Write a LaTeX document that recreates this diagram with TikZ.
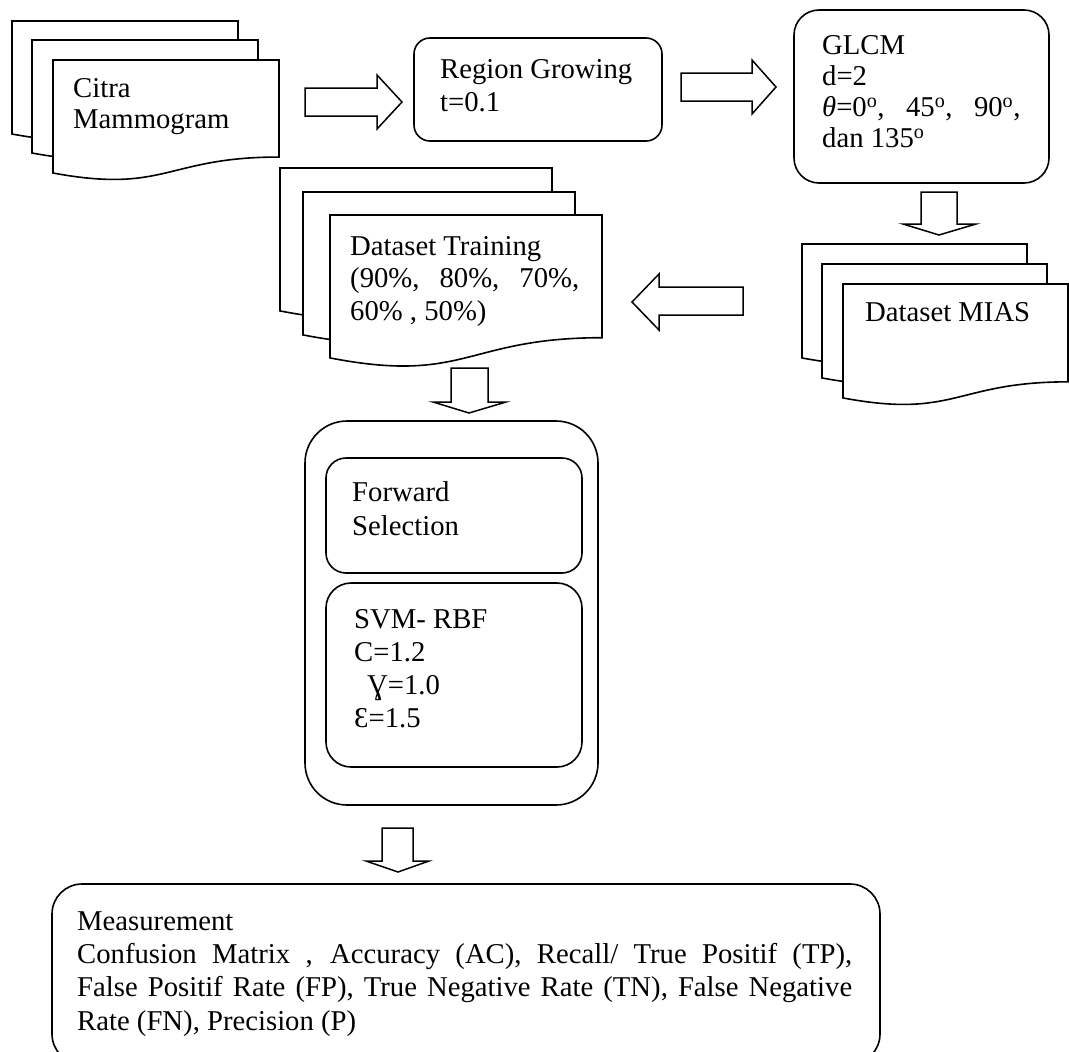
\documentclass[tikz,border=0pt]{standalone}
\usepackage{fontspec}
\setmainfont{Liberation Serif}
\newcommand{\docsheet}[4]{%
  \draw[sheet] (#1,#2) -- ({#1+#3},#2) -- ({#1+#3},{#2+0.802*#4})
    .. controls ({#1+0.5*#3},{#2+0.802*#4}) and ({#1+0.5*#3},{#2+1.107*#4}) .. (#1,{#2+0.934*#4}) -- cycle;}
\tikzset{
  sheet/.style={draw=black, fill=white, line width=1.6pt},
  rbox/.style={draw=black, fill=white, line width=1.6pt},
  blockarrow/.style={draw=black, fill=white, line width=1.5pt, line join=miter},
  txt/.style={anchor=north west, inner sep=0pt, align=left, font=\fontsize{28.7}{33}\selectfont},
}
\begin{document}
\begin{tikzpicture}[x=1pt,y=-1pt]
\fill[white] (0,0) rectangle (1069,1052);
\useasboundingbox (0,0) rectangle (1069,1052);

% Citra Mammogram
\docsheet{12}{21}{226}{121}
\docsheet{32}{40}{226}{121}
\docsheet{53}{60}{226}{121}
\node[txt] (citra) at (73,{97-23.1}) {\strut Citra\\[-2pt]Mammogram};

% arrow 1
\draw[blockarrow] (305,88) -- (377,88) -- (377,75) -- (402,102) -- (377,129) -- (377,116) -- (305,116) -- cycle;

% Region growing
\draw[rbox, rounded corners=16pt] (414,38) rectangle (662,141);
\node[txt] (rg) at (440,{78-23.1}) {\strut Region Growing\\t=0.1};

% arrow 2
\draw[blockarrow] (681,73) -- (752,73) -- (752,60) -- (776,87) -- (752,114) -- (752,101) -- (681,101) -- cycle;

% GLCM
\draw[rbox, rounded corners=25pt] (794,10) rectangle (1049,183);
\node[txt] (glcm) at (822,{54-23.1}) {\strut GLCM\\[-2pt]d=2\\[-2pt]\textit{θ}=0\textsuperscript{o},\hspace{0.75em}45\textsuperscript{o},\hspace{0.75em}90\textsuperscript{o},\\[-2pt]dan 135\textsuperscript{o}};

% arrow 3 down
\draw[blockarrow] (921,192) -- (957,192) -- (957,224) -- (976,224) -- (939,235) -- (903,224) -- (921,224) -- cycle;

% Dataset MIAS
\docsheet{802}{244}{225}{122}
\docsheet{822}{264}{225}{122}
\docsheet{843}{284}{225}{122}
\node[txt] (mias) at (865,{321-23.1}) {\strut Dataset MIAS};

% arrow 4 left
\draw[blockarrow] (743,287) -- (659,287) -- (659,274) -- (632,302) -- (659,330) -- (659,315) -- (743,315) -- cycle;

% Dataset Training
\docsheet{280}{168}{272}{153}
\docsheet{303}{192}{272}{153}
\docsheet{330}{215}{272}{153}
\node[txt] (train) at (350,{255-23.1}) {\strut Dataset Training\\[-0.5pt](90\%,\hspace{0.7em}80\%,\hspace{0.7em}70\%,\\[-0.5pt]60\% , 50\%)};

% arrow 5 down
\draw[blockarrow] (451,368) -- (488,368) -- (488,402) -- (506,402) -- (469,413) -- (433,402) -- (451,402) -- cycle;

% SVM container
\draw[rbox, rounded corners=42pt] (305,421) rectangle (598,805);
\draw[rbox, rounded corners=20pt] (326,458) rectangle (582,573);
\node[txt] (fs) at (352,{501-23.1}) {\strut Forward\\[1pt]Selection};
\draw[rbox, rounded corners=25pt] (326,583) rectangle (582,767);
\node[txt] (svm) at (354,{628-23.1}) {\strut SVM- RBF\\C=1.2\\\hspace{13pt}Ɣ=1.0\\Ɛ=1.5};

% arrow 6 down
\draw[blockarrow] (382,828) -- (413,828) -- (413,861) -- (429,861) -- (398,872) -- (366,861) -- (382,861) -- cycle;

% Measurement
\draw[rbox, rounded corners=30pt] (52,884) rectangle (880,1064);
\node[txt] (meas) at (77,{930-23.1}) {\strut Measurement\\[0.3pt]\makebox[775pt][s]{Confusion Matrix , Accuracy (AC), Recall/ True Positif (TP),}\\[0.3pt]\makebox[775pt][s]{False Positif Rate (FP), True Negative Rate (TN), False Negative}\\[0.3pt]Rate (FN), Precision (P)};
\end{tikzpicture}
\end{document}
